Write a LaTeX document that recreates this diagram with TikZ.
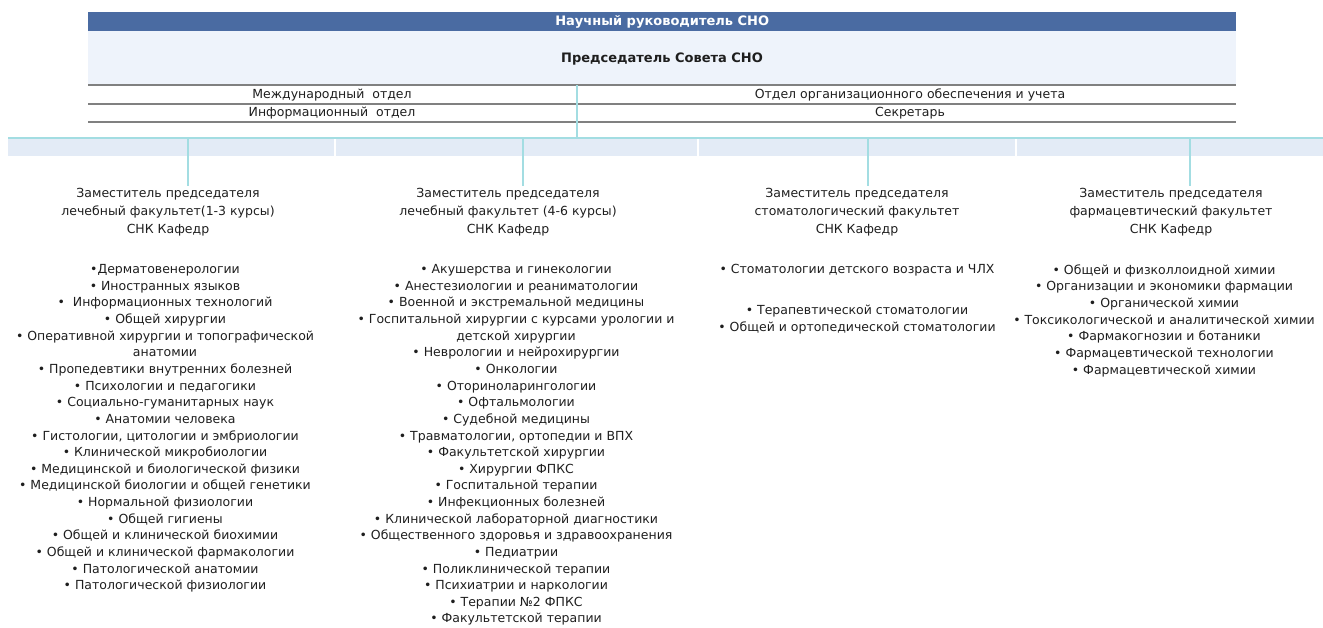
\documentclass[tikz,border=0pt]{standalone}
\usepackage{fontspec}
\setmainfont{DejaVu Sans}
\definecolor{barblue}{HTML}{4A6BA2}
\definecolor{paleblue}{HTML}{EEF3FB}
\definecolor{bandblue}{HTML}{E3EBF6}
\definecolor{conncol}{HTML}{A3DDE2}
\definecolor{rulegray}{HTML}{808080}
\definecolor{ink}{HTML}{1E1E1E}
\begin{document}
\begin{tikzpicture}[x=1pt,y=-1pt,
  boxfull/.style={inner sep=0pt, anchor=north west, minimum width=1148pt},
  celltext/.style={font=\fontsize{12.5}{15}\selectfont, text=ink, inner sep=0pt, anchor=base},
  head/.style={font=\fontsize{12.5}{18}\selectfont, text=ink, inner sep=0pt, anchor=north, align=center},
  list/.style={font=\fontsize{12.5}{16.63}\selectfont, text=ink, inner sep=0pt, anchor=north, align=center},
  rule/.style={draw=rulegray, line width=2pt},
  conn/.style={draw=conncol, line width=1.2pt},
  bus/.style={draw=conncol, line width=2pt},
  sep/.style={draw=white, line width=1.5pt}]
\useasboundingbox (0,0) rectangle (1323,627);

% top blocks
\node[boxfull, fill=barblue, minimum height=19pt, text=white,
      font=\bfseries\fontsize{13}{15}\selectfont] (sci) at (88,12) {Научный руководитель СНО};
\node[boxfull, fill=paleblue, minimum height=54pt] (chair) at (88,31) {};
\node[font=\bfseries\fontsize{13}{15}\selectfont, text=ink, inner sep=0pt, anchor=base]
      (chairtxt) at (662,62) {Председатель Совета СНО};

% table rows
\draw[rule] (chair.south west) -- (chair.south east);
\draw[rule] (88,103.5) -- (1236,103.5);
\draw[rule] (88,121.5) -- (1236,121.5);
\node[celltext] (intl) at (332,98) {Международный\ \ отдел};
\node[celltext] (org) at (910,98) {Отдел организационного обеспечения и учета};
\node[celltext] (info) at (332,116) {Информационный\ \ отдел};
\node[celltext] (secr) at (910,116) {Секретарь};

% band and bus
\fill[bandblue] (8,139) rectangle (1323,156);
\draw[sep] (335,139) -- (335,156);
\draw[sep] (698,139) -- (698,156);
\draw[sep] (1016,139) -- (1016,156);
\coordinate (busL) at (8,138);
\coordinate (busR) at (1323,138);
\coordinate (hub) at (577,138);
\draw[bus] (busL) -- (busR);
\draw[conn] (chair.south -| hub) -- (hub);

% deputies
\node[head] (d1) at (168,188) {Заместитель председателя\\лечебный факультет(1-3 курсы)\\СНК Кафедр};
\node[head] (d2) at (508,188) {Заместитель председателя\\лечебный факультет (4-6 курсы)\\СНК Кафедр};
\node[head] (d3) at (857,188) {Заместитель председателя\\стоматологический факультет\\СНК Кафедр};
\node[head] (d4) at (1171,188) {Заместитель председателя\\фармацевтический факультет\\СНК Кафедр};
\coordinate (t1) at (188,138);
\coordinate (t2) at (523,138);
\coordinate (t3) at (868,138);
\coordinate (t4) at (1190,138);
\foreach \i in {1,2,3,4}
  \draw[conn, shorten >=2.5pt] (t\i) -- (d\i.north -| t\i);

% lists
\node[list] (l1) at (165,264.4) {•Дерматовенерологии\\
• Иностранных языков\\
•\ \ Информационных технологий\\
• Общей хирургии\\
• Оперативной хирургии и топографической\\
анатомии\hspace*{24pt}\\
• Пропедевтики внутренних болезней\\
• Психологии и педагогики\\
• Социально-гуманитарных наук\\
• Анатомии человека\\
• Гистологии, цитологии и эмбриологии\\
• Клинической микробиологии\\
• Медицинской и биологической физики\\
• Медицинской биологии и общей генетики\\
• Нормальной физиологии\\
• Общей гигиены\\
• Общей и клинической биохимии\\
• Общей и клинической фармакологии\\
• Патологической анатомии\\
• Патологической физиологии};

\node[list] (l2) at (516,264.4) {• Акушерства и гинекологии\\
• Анестезиологии и реаниматологии\\
• Военной и экстремальной медицины\\
• Госпитальной хирургии с курсами урологии и\\
детской хирургии\\
• Неврологии и нейрохирургии\\
• Онкологии\\
• Оториноларингологии\\
• Офтальмологии\\
• Судебной медицины\\
• Травматологии, ортопедии и ВПХ\\
• Факультетской хирургии\\
• Хирургии ФПКС\\
• Госпитальной терапии\\
• Инфекционных болезней\\
• Клинической лабораторной диагностики\\
• Общественного здоровья и здравоохранения\\
• Педиатрии\\
• Поликлинической терапии\\
• Психиатрии и наркологии\\
• Терапии №2 ФПКС\\
• Факультетской терапии};

\node[list] (l3) at (857,264.4) {• Стоматологии детского возраста и ЧЛХ\\[24.4pt]
• Терапевтической стоматологии\\
• Общей и ортопедической стоматологии};

\node[list] (l4) at (1164,264.4) {• Общей и физколлоидной химии\\
• Организации и экономики фармации\\
• Органической химии\\
• Токсикологической и аналитической химии\\
• Фармакогнозии и ботаники\\
• Фармацевтической технологии\\
• Фармацевтической химии};
\end{tikzpicture}
\end{document}
